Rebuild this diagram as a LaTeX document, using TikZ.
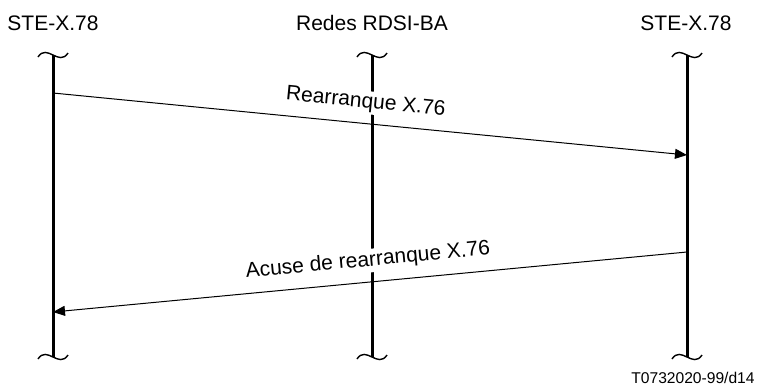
\documentclass[tikz,border=0pt]{standalone}
\usepackage{fontspec}
\setmainfont{Liberation Sans}
\usetikzlibrary{arrows.meta}
\tikzset{
	lifeline/.style={line width=1.5pt},
	msg/.style={line width=0.5pt,-{Triangle[length=6pt,width=5pt]}},
	bigtext/.style={font=\fontsize{10.5}{12}\selectfont},
	msglabel/.style={bigtext,sloped,fill=white,inner sep=1pt},
	tildemark/.pic={\draw[line width=0.7pt] (-15,2) .. controls (-6,-12) and (6,12) .. (15,-2);}
}
\begin{document}
\begin{tikzpicture}[x=0.5pt,y=-0.5pt]
		\useasboundingbox (0,0) rectangle (757,388);
		\node[bigtext] (ste1) at (53,23) {STE-X.78};
		\node[bigtext] (rdsi) at (372,23) {Redes RDSI-BA};
		\node[bigtext] (ste2) at (686,23) {STE-X.78};
		\coordinate (ste1top) at (53,55);
		\coordinate (ste1bot) at (53,357);
		\coordinate (rdsitop) at (372,55);
		\coordinate (rdsibot) at (372,357);
		\coordinate (ste2top) at (687,55);
		\coordinate (ste2bot) at (687,357);
		\draw[lifeline] (ste1top) -- (ste1bot);
		\draw[lifeline] (rdsitop) -- (rdsibot);
		\draw[lifeline] (ste2top) -- (ste2bot);
		\pic at (ste1top) {tildemark};
		\pic at (rdsitop) {tildemark};
		\pic at (ste2top) {tildemark};
		\pic at (ste1bot) {tildemark};
		\pic at (rdsibot) {tildemark};
		\pic at (ste2bot) {tildemark};
		\coordinate (ste1out) at (53,93);
		\coordinate (ste2in) at (687,155);
		\coordinate (ste2out) at (687,252);
		\coordinate (ste1in) at (53,312);
		\draw[msg] (ste1out) -- node[msglabel,above=4.5pt,pos=0.49] (rearr) {Rearranque X.76} (ste2in);
		\draw[msg] (ste2out) -- node[msglabel,above=4.5pt,pos=0.5] (acuse) {Acuse de rearranque X.76} (ste1in);
		\node[font=\fontsize{7.8}{9}\selectfont] (ref) at (693,378) {T0732020-99/d14};
	\end{tikzpicture}
\end{document}
